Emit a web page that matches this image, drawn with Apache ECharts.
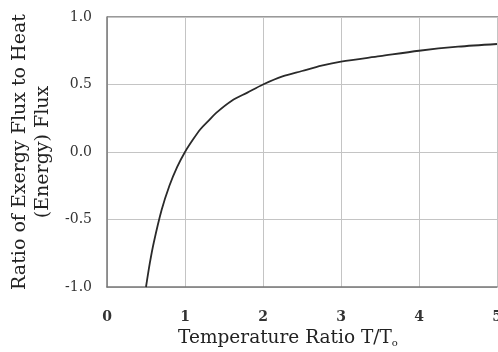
<!DOCTYPE html>
<html>
<head>
<meta charset="utf-8">
<script src="https://cdn.jsdelivr.net/npm/echarts@6/dist/echarts.min.js"></script>
<style>
  html, body { margin: 0; padding: 0; background: #fff; }
  #chart { width: 498px; height: 352px; }
</style>
</head>
<body>
<div id="chart"></div>
<script>
// values
const tempRatio = [0.5, 0.55, 0.6, 0.7, 0.8, 0.9, 1.0, 1.1, 1.2, 1.3, 1.4, 1.6, 1.8, 2.0, 2.25, 2.5, 2.75, 3.0, 3.5, 4.0, 4.5, 5.0];
const exergyRatio = [-1.0, -0.82, -0.67, -0.43, -0.25, -0.11, 0.0, 0.09, 0.17, 0.23, 0.29, 0.38, 0.44, 0.5, 0.56, 0.6, 0.64, 0.67, 0.71, 0.75, 0.78, 0.8];
const xTicks = [0, 1, 2, 3, 4, 5];
const yTicks = [-1.0, -0.5, 0.0, 0.5, 1.0];

const font = '"DejaVu Serif", "Liberation Serif", serif';
const chart = echarts.init(document.getElementById('chart'));

chart.setOption({
  animation: false,
  grid: { left: 107, right: 1, top: 17, bottom: 65, outerBoundsMode: 'none' },
  xAxis: {
    type: 'value',
    min: xTicks[0],
    max: xTicks[xTicks.length - 1],
    interval: 1,
    name: '{a|Temperature Ratio T/T}{s|o}',
    nameLocation: 'middle',
    nameGap: 41,
    nameTextStyle: {
      padding: [0, 28, 0, 0],
      rich: {
        a: { fontFamily: font, fontSize: 18.5, color: '#222' },
        s: { fontFamily: font, fontSize: 10, color: '#222', padding: [10, 0, 0, 0] }
      }
    },
    axisLine: { show: true, onZero: false, lineStyle: { color: '#777', width: 1.5 } },
    axisTick: { show: false },
    axisLabel: { fontFamily: font, fontSize: 14, fontWeight: 'bold', color: '#333', margin: 23 },
    splitLine: { show: true, lineStyle: { color: '#c4c4c4', width: 1 } }
  },
  yAxis: {
    type: 'value',
    min: yTicks[0],
    max: yTicks[yTicks.length - 1],
    interval: 0.5,
    name: 'Ratio of Exergy Flux to Heat\n(Energy) Flux',
    nameLocation: 'middle',
    nameGap: 49,
    nameTextStyle: { fontFamily: font, fontSize: 19, color: '#222', lineHeight: 23 },
    axisLine: { show: true, onZero: false, lineStyle: { color: '#777', width: 1.5 } },
    axisTick: { show: false },
    axisLabel: {
      fontFamily: font, fontSize: 14, color: '#333', margin: 15,
      formatter: v => v.toFixed(1)
    },
    splitLine: { show: true, lineStyle: { color: '#c4c4c4', width: 1 } }
  },
  series: [{
    type: 'line',
    data: tempRatio.map((t, i) => [t, exergyRatio[i]]),
    smooth: 0.3,
    showSymbol: false,
    lineStyle: { color: '#2a2a2a', width: 1.8 }
  }],
  graphic: [{
    type: 'line',
    shape: { x1: 107, y1: 17, x2: 498, y2: 17 },
    style: { stroke: '#777', lineWidth: 1.5 }
  }]
});
</script>
</body>
</html>
